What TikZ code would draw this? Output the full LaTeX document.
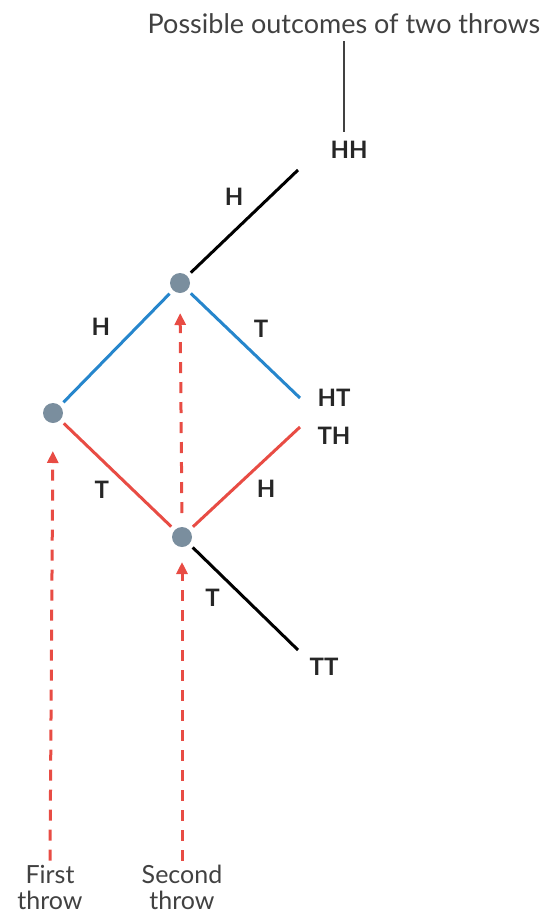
\documentclass[tikz,border=0pt]{standalone}
\usepackage{fontspec}
\setmainfont{Lato}
\usetikzlibrary{arrows.meta,positioning}
\definecolor{tossred}{RGB}{232,76,68}
\definecolor{tossblue}{RGB}{38,134,204}
\definecolor{tossgrey}{RGB}{122,142,158}
\definecolor{capgrey}{RGB}{65,65,65}
\begin{document}
\begin{tikzpicture}[x=1pt,y=-1pt,
  dot/.style={circle,fill=tossgrey,minimum size=20pt,inner sep=0pt,outer sep=5pt},
  lbl/.style={font=\fontsize{24}{27}\selectfont\bfseries,text=black!85,inner sep=1pt},
  captext/.style={font=\fontsize{25}{26}\selectfont,text=capgrey,align=center,inner sep=1pt},
  branch/.style={line width=3pt},
  throwarrow/.style={tossred,line width=3pt,dash pattern=on 11pt off 9pt,-{Triangle[length=12pt,width=11pt]}}]
\useasboundingbox (0,0) rectangle (548,916);
% outcomes
\node[captext,font=\fontsize{27}{30}\selectfont](title) at (344,24) {Possible outcomes of two throws};
\node[lbl](hh) at (349,150) {HH};
\node[lbl](ht) at (334,398) {HT};
\node[lbl](th) at (334,436) {TH};
\node[lbl](tt) at (324,667) {TT};
\draw[capgrey,line width=1.5pt,shorten <=6pt,shorten >=8pt](title)--(title|-hh.north);
% the three states
\node[dot](first) at (53,413) {};
\node[dot](secH) at (180,283) {};
\node[dot](secT) at (182,537) {};
\coordinate (hh end) at (298,170);
\coordinate (ht end) at (300,398);
\coordinate (th end) at (300,427);
\coordinate (tt end) at (298,650);
% branches
\draw[branch,tossblue](first)--node[lbl,above left=10pt and 4pt]{H}(secH);
\draw[branch,tossblue](secH)--node[lbl,above right=6pt and 6pt]{T}(ht end);
\draw[branch,tossred](first)--node[lbl,below left=4pt and 6pt]{T}(secT);
\draw[branch,tossred](secT)--node[lbl,below right=1pt and 8pt]{H}(th end);
\draw[branch](secH)--node[lbl,pos=0.55,above left=8pt and 4pt]{H}(hh end);
\draw[branch](secT)--node[lbl,pos=0.3,below left=8pt and 2pt]{T}(tt end);
% throws
\node[captext](firstlbl) at (50,887) {First\\throw};
\node[captext](secondlbl) at (182,887) {Second\\throw};
\draw[throwarrow,shorten <=3pt,shorten >=23pt](firstlbl.north)--(first.south);
\draw[throwarrow,shorten <=3pt,shorten >=10pt](secondlbl.north)--(secT.south);
\draw[throwarrow,shorten <=9pt,shorten >=15pt](secT.north)--(secH.south);
\end{tikzpicture}
\end{document}
